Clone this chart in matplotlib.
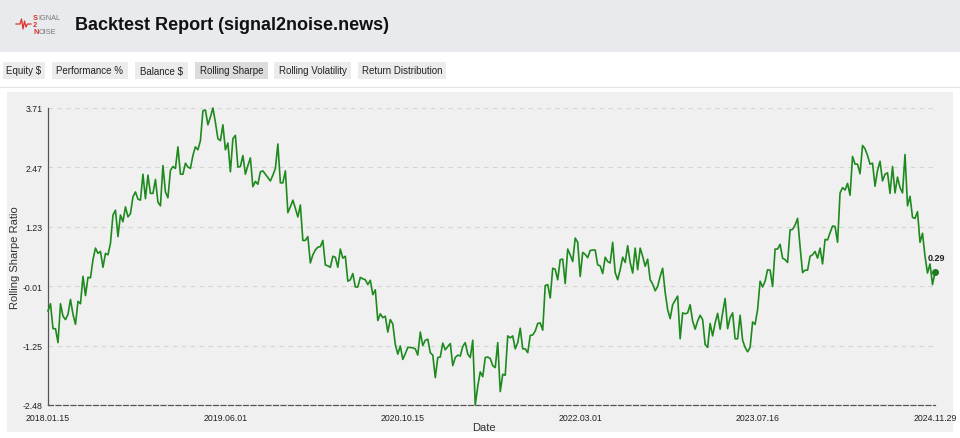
import pandas as pd
import matplotlib.pyplot as plt
from matplotlib.patches import Rectangle

plt.rcParams['font.family'] = ['Liberation Sans', 'DejaVu Sans']

# Rolling Sharpe ratio (roughly weekly)
sharpe = [
    -0.52, -0.37, -0.89, -0.89, -1.18, -0.37, -0.63, -0.70, -0.59, -0.28,
    -0.59, -0.80, -0.32, -0.37, 0.20, -0.20, 0.18, 0.17, 0.55, 0.79,
    0.68, 0.72, 0.39, 0.68, 0.65, 0.89, 1.48, 1.58, 1.03, 1.48,
    1.34, 1.65, 1.44, 1.51, 1.86, 1.96, 1.81, 1.79, 2.33, 1.82,
    2.31, 1.93, 1.93, 2.22, 1.75, 1.67, 2.51, 1.96, 1.84, 2.41,
    2.49, 2.45, 2.90, 2.33, 2.33, 2.56, 2.48, 2.45, 2.72, 2.90,
    # 2019
    2.84, 3.03, 3.65, 3.67, 3.36, 3.52, 3.71, 3.41, 3.07, 3.03,
    3.36, 2.84, 2.98, 2.38, 3.07, 3.14, 2.48, 2.49, 2.72, 2.33,
    2.51, 2.67, 2.07, 2.18, 2.12, 2.38, 2.40, 2.33, 2.26, 2.19,
    2.31, 2.45, 2.96, 2.15, 2.15, 2.40, 1.53, 1.65, 1.79, 1.62,
    1.44, 1.69, 0.95, 0.95, 1.03, 0.48, 0.65, 0.75, 0.81, 0.82,
    0.95, 0.44, 0.42, 0.39, 0.62, 0.60, 0.39, 0.77,
    # 2020
    0.58, 0.62, 0.10, 0.13, 0.26, -0.02, -0.02, 0.18, 0.15, 0.13,
    0.03, 0.12, -0.18, -0.08, -0.72, -0.58, -0.66, -0.63, -0.96, -0.70,
    -0.79, -1.22, -1.42, -1.25, -1.53, -1.41, -1.28, -1.28, -1.29, -1.31,
    -1.44, -0.96, -1.24, -1.13, -1.11, -1.39, -1.44, -1.91, -1.49, -1.48,
    -1.19, -1.33, -1.26, -1.20, -1.66, -1.49, -1.44, -1.46, -1.26, -1.18,
    -1.42, -1.49, -1.13, -2.48, -2.09, -1.79, -1.89, -1.49, -1.48, -1.51,
    -1.66,
    # 2021
    -1.70, -1.18, -2.20, -1.84, -1.86, -1.04, -1.08, -1.04, -1.31, -1.18,
    -0.88, -1.31, -1.31, -1.39, -1.03, -1.02, -0.94, -0.78, -0.77, -0.92,
    0.01, 0.03, -0.25, 0.37, 0.35, 0.13, 0.55, 0.56, 0.05, 0.77,
    0.65, 0.51, 1.00, 0.91, 0.20, 0.70, 0.66, 0.59, 0.74, 0.75,
    0.75, 0.44, 0.42, 0.26, 0.60, 0.51, 0.48, 0.91, 0.28, 0.13,
    0.34, 0.60, 0.49, 0.84, 0.49, 0.27, 0.79, 0.34, 0.79, 0.62,
    # 2022
    0.41, 0.56, 0.13, 0.04, -0.10, -0.01, 0.20, 0.37, -0.13, -0.49,
    -0.68, -0.39, -0.30, -0.21, -1.10, -0.56, -0.58, -0.56, -0.39, -0.73,
    -0.90, -0.73, -0.61, -0.70, -1.22, -1.28, -0.78, -1.04, -0.77, -0.57,
    -0.90, -0.56, -0.26, -0.89, -0.66, -0.56, -1.10, -1.10, -0.61, -1.13,
    -1.28, -1.37, -1.28, -0.75, -0.80, -0.49, 0.10, -0.02, 0.10, 0.34,
    0.33, -0.01, 0.77, 0.77, 0.87, 0.58, 0.55, 0.49, 1.17, 1.18,
    1.27,
    # 2023 - 2024
    1.41, 0.82, 0.28, 0.33, 0.33, 0.62, 0.65, 0.72, 0.58, 0.79,
    0.46, 0.97, 0.96, 1.11, 1.25, 1.24, 0.91, 1.94, 2.05, 2.00,
    2.14, 1.89, 2.70, 2.54, 2.54, 2.34, 2.93, 2.86, 2.72, 2.54,
    2.56, 2.08, 2.41, 2.60, 2.19, 2.33, 2.36, 1.93, 2.49, 1.94,
    2.27, 2.05, 1.94, 2.74, 1.67, 1.87, 1.43, 1.41, 1.55, 0.91,
    1.10, 0.62, 0.27, 0.46, 0.03, 0.29,
]
dates = pd.date_range("2018-01-15", "2024-11-29", periods=len(sharpe))

y_ticks = [3.71, 2.47, 1.23, -0.01, -1.25, -2.48]
x_ticks = ["2018-01-15", "2019-06-01", "2020-10-15", "2022-03-01", "2023-07-16", "2024-11-29"]
tabs = ["Equity $", "Performance %", "Balance $", "Rolling Sharpe", "Rolling Volatility", "Return Distribution"]
tab_x = [3, 52, 135, 195, 274, 358]
tab_w = [42, 76, 53, 73, 77, 88]
active_tab = "Rolling Sharpe"

W, H = 960, 439
fig = plt.figure(figsize=(W / 100, H / 100), dpi=100)
fig.patch.set_facecolor("white")

# page background: header, tab bar, chart panel (pixel coords)
bg = fig.add_axes([0, 0, 1, 1], zorder=0)
bg.set_xlim(0, W)
bg.set_ylim(H, 0)
bg.axis("off")
bg.add_patch(Rectangle((0, 0), W, 53, color="#e8eaed", lw=0))
bg.text(75, 26, "Backtest Report (signal2noise.news)", fontsize=13, fontweight="bold",
        va="center", ha="left", color="#111111")

# small logo
bg.plot([16, 20, 21.5, 23, 24.5, 26, 27.5, 31], [25, 25, 20, 30, 22, 28, 25, 25],
        color="#d9342b", lw=0.9)
for i, (a, b) in enumerate([("S", "IGNAL"), ("2", ""), ("N", "OISE")]):
    t = bg.text(33, 19 + i * 6.5, a, fontsize=5.3, color="#d9342b", fontweight="bold", va="center")
    bg.annotate(b, xycoords=t, xy=(1, 0.5), va="center", fontsize=5.3, color="#777777")

for name, x, w in zip(tabs, tab_x, tab_w):
    fc = "#dcdcdc" if name == active_tab else "#ececec"
    bg.add_patch(Rectangle((x, 63), w, 17, color=fc, lw=0))
    bg.text(x + w / 2, 71.5, name, fontsize=7, ha="center", va="center", color="#222222")
bg.plot([0, W], [87.5, 87.5], color="#e2e2e2", lw=0.8)
bg.add_patch(Rectangle((7, 93), 946, 340, color="#f0f0f0", lw=0))

# chart
ax = fig.add_axes([48 / W, 1 - 406 / H, 887 / W, 297 / H], zorder=1)
ax.set_facecolor("none")
ax.plot(dates, sharpe, color="#1e8a1e", lw=1.2, clip_on=False, zorder=3)
ax.plot(dates[-1], sharpe[-1], "o", color="#1e7a1e", ms=4, clip_on=False, zorder=4)
ax.annotate(f"{sharpe[-1]:.2f}", (dates[-1], sharpe[-1]), xytext=(1, 7), textcoords="offset points",
            ha="center", va="bottom", fontsize=6.5, fontweight="bold", color="#222222")

ax.set_xlim(dates[0], dates[-1])
ax.set_ylim(min(y_ticks), max(y_ticks))
ax.set_yticks(y_ticks)
ax.set_yticklabels([f"{v:.2f}" for v in y_ticks])
xt = pd.to_datetime(x_ticks)
ax.set_xticks(xt)
ax.set_xticklabels([d.strftime("%Y.%m.%d") for d in xt])
ax.tick_params(length=0, labelsize=6.3, colors="#222222")
ax.tick_params(axis="x", pad=6)
ax.tick_params(axis="y", pad=4)
for v in y_ticks[:-1]:
    ax.axhline(v, color="#d4d4d4", lw=0.8, ls=(0, (4, 4)), zorder=1)
for s in ["top", "right"]:
    ax.spines[s].set_visible(False)
ax.spines["left"].set_color("#555555")
ax.spines["left"].set_linewidth(0.9)
ax.spines["bottom"].set_color("#555555")
ax.spines["bottom"].set_linestyle((0, (4, 2)))
ax.spines["bottom"].set_linewidth(0.9)
ax.set_xlabel("Date", fontsize=8, color="#333333")
ax.xaxis.set_label_coords(0.491, -0.057)
ax.set_ylabel("Rolling Sharpe Ratio", fontsize=8, color="#333333")
ax.yaxis.set_label_coords(-28 / 887, 0.5)

plt.savefig("out.png", dpi=100)
